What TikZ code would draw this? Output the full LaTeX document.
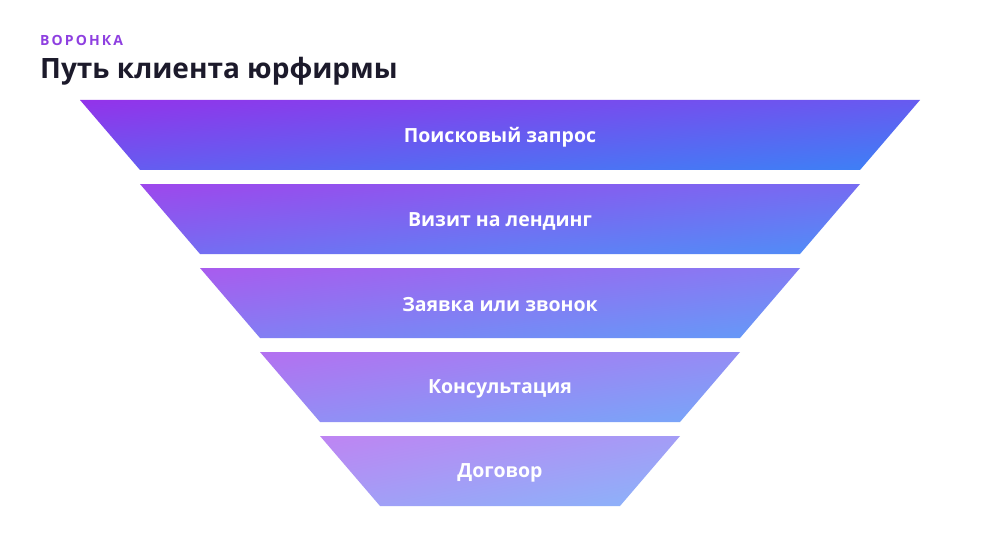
\documentclass[tikz,border=0pt]{standalone}
\usepackage{fontspec}
\usetikzlibrary{shadings}
\setmainfont{Open Sans}
\newfontfamily\kickerfont{Open Sans}[LetterSpace=15]
\definecolor{funnelpurple}{HTML}{9333EA}
\definecolor{funnelblue}{HTML}{3B82F6}
\colorlet{funnelmid}{funnelpurple!50!funnelblue}
\definecolor{titleink}{HTML}{1C1A2B}
\definecolor{kickerink}{HTML}{8E3FE0}
\tikzset{
	bandshade/.style={draw=none,
		upper left=funnelpurple!#1!white, upper right=funnelmid!#1!white,
		lower left=funnelmid!#1!white, lower right=funnelblue!#1!white},
	bandlabel/.style={text=white, font=\fontsize{19.5}{23}\selectfont\bfseries, anchor=center},
}
\begin{document}
\begin{tikzpicture}[x=1pt, y=-1pt]
	\useasboundingbox[fill=white] (0,0) rectangle (1000,540);
	\node[kickerink, anchor=base west, inner sep=0pt, font=\kickerfont\fontsize{14}{16}\selectfont\bfseries] (kicker) at (40,46) {ВОРОНКА};
	\node[titleink, anchor=base west, inner sep=0pt, font=\fontsize{28}{33}\selectfont\bfseries] (title) at (40,79) {Путь клиента юрфирмы};
	\shade[bandshade=100] (80,100) -- (920,100) -- (860,170) -- (140,170) -- cycle;
	\shade[bandshade=90] (140,184) -- (860,184) -- (800,254) -- (200,254) -- cycle;
	\shade[bandshade=80] (200,268) -- (800,268) -- (740,338) -- (260,338) -- cycle;
	\shade[bandshade=70] (260,352) -- (740,352) -- (680,422) -- (320,422) -- cycle;
	\shade[bandshade=60] (320,436) -- (680,436) -- (620,506) -- (380,506) -- cycle;
	\node[bandlabel] (search) at (500,137) {Поисковый запрос};
	\node[bandlabel] (visit) at (500,221) {Визит на лендинг};
	\node[bandlabel] (request) at (500,305) {Заявка или звонок};
	\node[bandlabel] (consult) at (500,389) {Консультация};
	\node[bandlabel] (contract) at (500,473) {Договор};
\end{tikzpicture}
\end{document}
